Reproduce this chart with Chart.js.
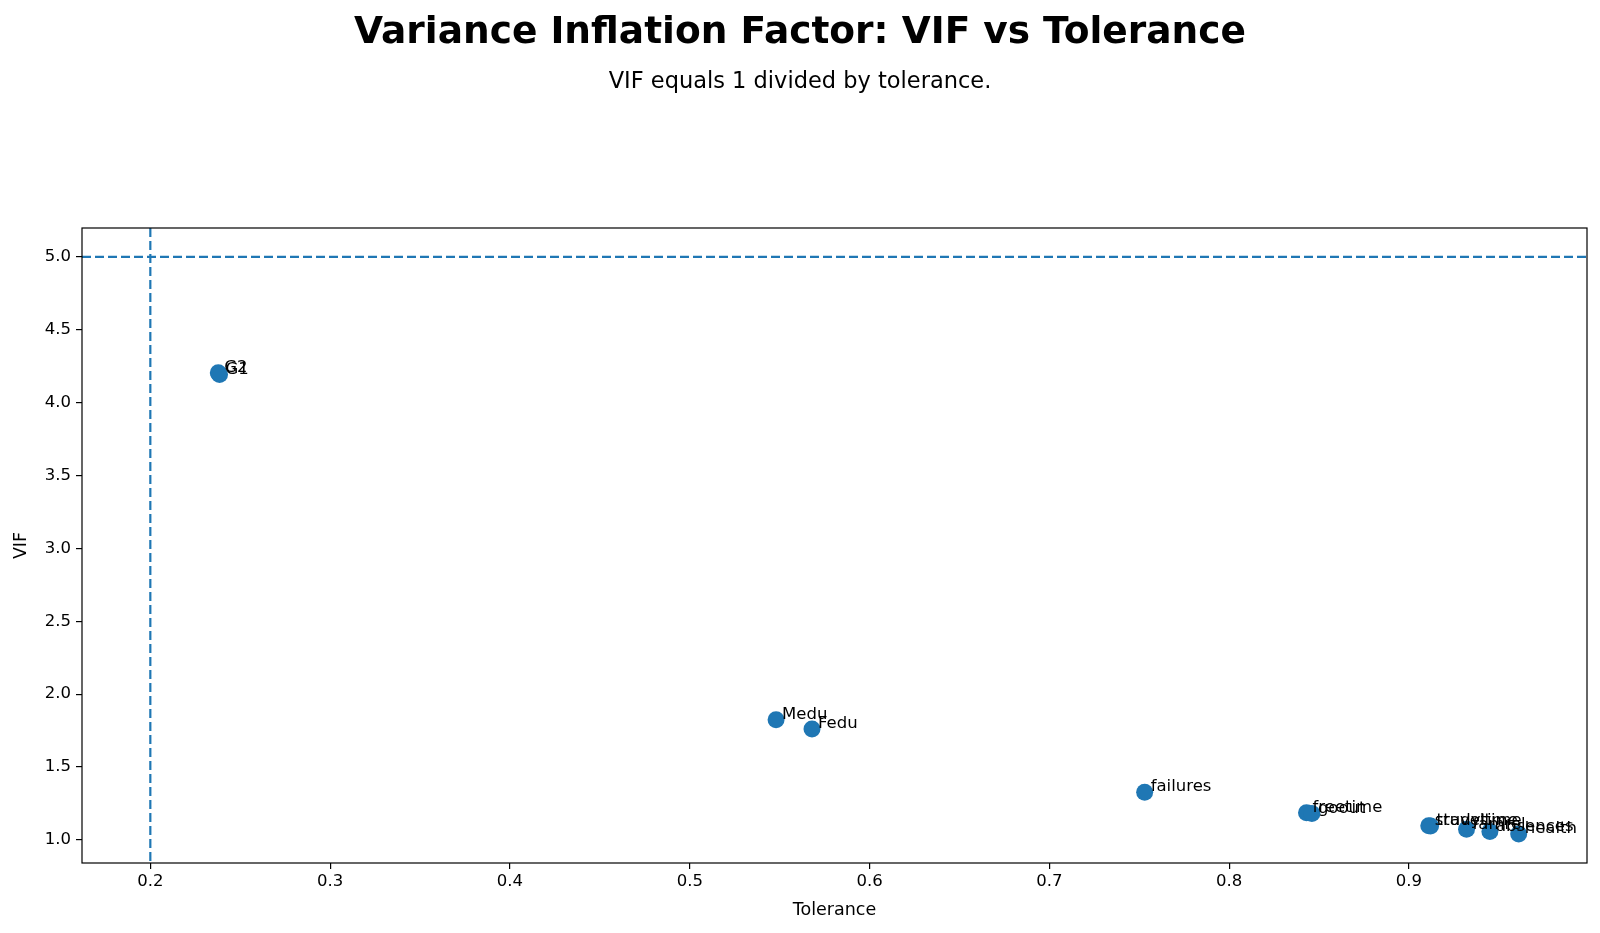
<!DOCTYPE html>
<html>
<head>
<meta charset="utf-8">
<script src="https://cdn.jsdelivr.net/npm/chart.js@4.4.1/dist/chart.umd.min.js"></script>
<style>
  html, body { margin: 0; padding: 0; background: #fff; }
  #wrap { width: 1600px; height: 933px; position: relative; }
</style>
</head>
<body>
<div id="wrap"><canvas id="vif"></canvas></div>
<script>
// values
const names = ['G1', 'G2', 'Medu', 'Fedu', 'failures', 'freetime', 'goout',
               'studytime', 'traveltime', 'famrel', 'absences', 'health'];
const tolerance = [0.2385, 0.2378, 0.548, 0.568, 0.753, 0.843, 0.846,
                   0.911, 0.912, 0.932, 0.945, 0.961];
const vif = [4.193, 4.205, 1.825, 1.761, 1.328, 1.186, 1.182,
             1.098, 1.096, 1.073, 1.058, 1.041];
const xTicks = [0.2, 0.3, 0.4, 0.5, 0.6, 0.7, 0.8, 0.9];
const yTicks = [1.0, 1.5, 2.0, 2.5, 3.0, 3.5, 4.0, 4.5, 5.0];
const tolCutoff = 0.2;
const vifCutoff = 5.0;

const blue = '#1f77b4';
const font = 'DejaVu Sans';

const points = tolerance.map((t, i) => ({ x: t, y: vif[i] }));

const decorations = {
  id: 'decorations',
  beforeDatasetsDraw(chart) {
    const { ctx, chartArea: a, scales: { x, y } } = chart;
    ctx.save();
    ctx.strokeStyle = blue;
    ctx.lineWidth = 2.2;
    ctx.setLineDash([9, 4]);
    const px = x.getPixelForValue(tolCutoff);
    ctx.beginPath();
    ctx.moveTo(px, a.top);
    ctx.lineTo(px, a.bottom);
    ctx.stroke();
    const py = y.getPixelForValue(vifCutoff);
    ctx.beginPath();
    ctx.moveTo(a.left, py);
    ctx.lineTo(a.right, py);
    ctx.stroke();
    ctx.restore();
  },
  afterDatasetsDraw(chart) {
    const { ctx, chartArea: a, scales: { x, y } } = chart;
    ctx.save();
    // point labels
    ctx.fillStyle = '#000';
    ctx.font = '16.5px "' + font + '"';
    ctx.textAlign = 'left';
    ctx.textBaseline = 'middle';
    names.forEach((n, i) => {
      ctx.fillText(n, x.getPixelForValue(tolerance[i]) + 6, y.getPixelForValue(vif[i]) - 5);
    });
    // frame
    ctx.strokeStyle = '#000';
    ctx.lineWidth = 1.2;
    ctx.strokeRect(a.left, a.top, a.right - a.left, a.bottom - a.top);
    // titles
    ctx.textAlign = 'center';
    ctx.font = 'bold 37.5px "' + font + '"';
    ctx.fillText('Variance Inflation Factor: VIF vs Tolerance', 800, 33);
    ctx.font = '22.5px "' + font + '"';
    ctx.fillText('VIF equals 1 divided by tolerance.', 800, 82);
    // axis titles
    ctx.font = '17.5px "' + font + '"';
    ctx.fillText('Tolerance', (a.left + a.right) / 2, 910);
    ctx.translate(21, (a.top + a.bottom) / 2);
    ctx.rotate(-Math.PI / 2);
    ctx.fillText('VIF', 0, 0);
    ctx.restore();
  }
};

new Chart(document.getElementById('vif'), {
  type: 'scatter',
  data: {
    datasets: [{
      data: points,
      backgroundColor: blue,
      borderColor: blue,
      borderWidth: 0,
      pointRadius: 8.5,
      pointHoverRadius: 8.5
    }]
  },
  options: {
    responsive: true,
    maintainAspectRatio: false,
    animation: false,
    layout: { padding: { top: 228, right: 13, bottom: 0, left: 0 } },
    plugins: {
      legend: { display: false },
      tooltip: { enabled: false }
    },
    scales: {
      x: {
        type: 'linear',
        min: 0.162,
        max: 0.999,
        afterFit(s) { s.height = 70; },
        afterBuildTicks(s) { s.ticks = xTicks.map(v => ({ value: v })); },
        border: { display: false },
        grid: { drawOnChartArea: false, drawTicks: true, tickLength: 6, color: '#000', lineWidth: 1.2 },
        ticks: {
          padding: 3,
          color: '#000',
          font: { family: font, size: 16.5 },
          callback: v => v.toFixed(1)
        }
      },
      y: {
        type: 'linear',
        min: 0.842,
        max: 5.198,
        afterFit(s) { s.width = 82; },
        afterBuildTicks(s) { s.ticks = yTicks.map(v => ({ value: v })); },
        border: { display: false },
        grid: { drawOnChartArea: false, drawTicks: true, tickLength: 6, color: '#000', lineWidth: 1.2 },
        ticks: {
          padding: 5,
          color: '#000',
          font: { family: font, size: 16.5 },
          callback: v => v.toFixed(1)
        }
      }
    }
  },
  plugins: [decorations]
});
</script>
</body>
</html>
